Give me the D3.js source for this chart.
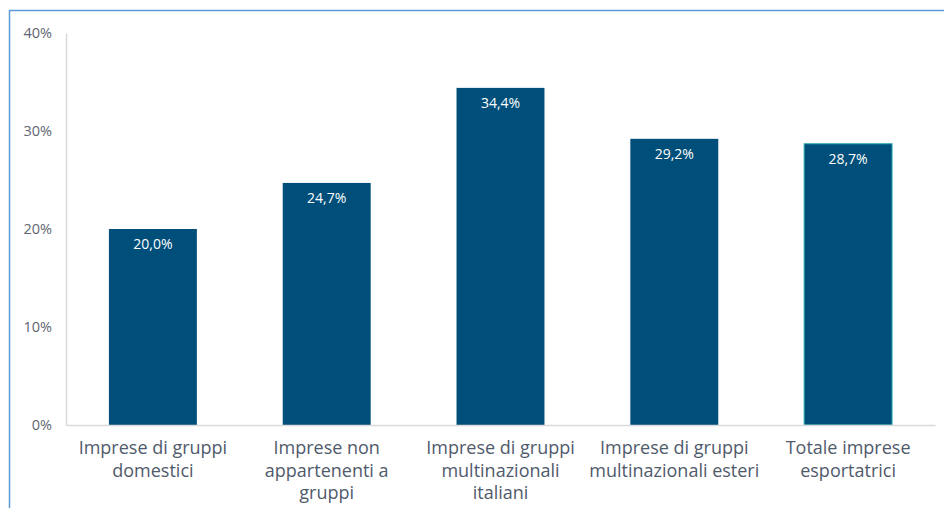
<!DOCTYPE html>
<html>
<head>
<meta charset="utf-8">
<script src="https://cdn.jsdelivr.net/npm/d3@7"></script>
<style>
  html, body { margin: 0; padding: 0; background: #fff; }
  svg { display: block; }
</style>
</head>
<body>
<svg id="chart" width="944" height="508"></svg>
<script>
// Share of firms by group type (percent)
const categories = [
  ["Imprese di gruppi", "domestici"],
  ["Imprese non", "appartenenti a", "gruppi"],
  ["Imprese di gruppi", "multinazionali", "italiani"],
  ["Imprese di gruppi", "multinazionali esteri"],
  ["Totale imprese", "esportatrici"]
];
const values = [20.0, 24.7, 34.4, 29.2, 28.7];
const yTicks = [0, 10, 20, 30, 40];

const svg = d3.select("#chart");
const W = 944, H = 508;
const margin = { left: 66, right: 9, top: 33, bottom: 83 };

// outer frame (top and left edges)
svg.append("line").attr("x1", 9).attr("x2", W).attr("y1", 10.5).attr("y2", 10.5)
  .attr("stroke", "#5b9bd5").attr("stroke-width", 1.5);
svg.append("line").attr("x1", 9.5).attr("x2", 9.5).attr("y1", 10).attr("y2", H)
  .attr("stroke", "#5b9bd5").attr("stroke-width", 1.5);

const x = d3.scaleBand()
  .domain(d3.range(categories.length))
  .range([margin.left, W - margin.right])
  .paddingInner(0.494).paddingOuter(0.247);

const y = d3.scaleLinear().domain([0, 40]).range([H - margin.bottom, margin.top]);

const font = "'Open Sans', 'Noto Sans', sans-serif";

// y axis
const yAxis = svg.append("g")
  .attr("transform", `translate(${margin.left},0)`)
  .call(d3.axisLeft(y).tickValues(yTicks).tickSize(0).tickPadding(14).tickFormat(d => d + "%"));
yAxis.select(".domain").attr("stroke", "#d9d9d9").attr("stroke-width", 1.5);
yAxis.selectAll("text").attr("font-family", font).attr("font-size", 14.5).attr("fill", "#5f6672");

// bars
svg.selectAll("rect.bar").data(values).join("rect")
  .attr("class", "bar")
  .attr("x", (d, i) => x(i))
  .attr("width", x.bandwidth())
  .attr("y", d => y(d))
  .attr("height", d => y(0) - y(d))
  .attr("fill", "#004f7a")
  .attr("stroke", (d, i) => i === values.length - 1 ? "#2ab0b0" : "none")
  .attr("stroke-width", 1);

// value labels inside bars
svg.selectAll("text.val").data(values).join("text")
  .attr("class", "val")
  .attr("x", (d, i) => x(i) + x.bandwidth() / 2)
  .attr("y", d => y(d) + 20)
  .attr("text-anchor", "middle")
  .attr("font-family", font).attr("font-size", 14)
  .attr("fill", "#fff")
  .text(d => d.toFixed(1).replace(".", ",") + "%");

// x axis
const xAxis = svg.append("g")
  .attr("transform", `translate(0,${y(0)})`)
  .call(d3.axisBottom(x).tickSize(0).tickFormat(""));
xAxis.select(".domain").attr("stroke", "#d9d9d9").attr("stroke-width", 1.5);

// category labels
const lab = svg.selectAll("text.cat").data(categories).join("text")
  .attr("class", "cat")
  .attr("text-anchor", "middle")
  .attr("font-family", font).attr("font-size", 18)
  .attr("fill", "#4f5a6b");
lab.each(function(lines, i) {
  d3.select(this).selectAll("tspan").data(lines).join("tspan")
    .attr("x", x(i) + x.bandwidth() / 2)
    .attr("y", (d, j) => y(0) + 29 + j * 22.5)
    .text(d => d);
});
</script>
</body>
</html>
